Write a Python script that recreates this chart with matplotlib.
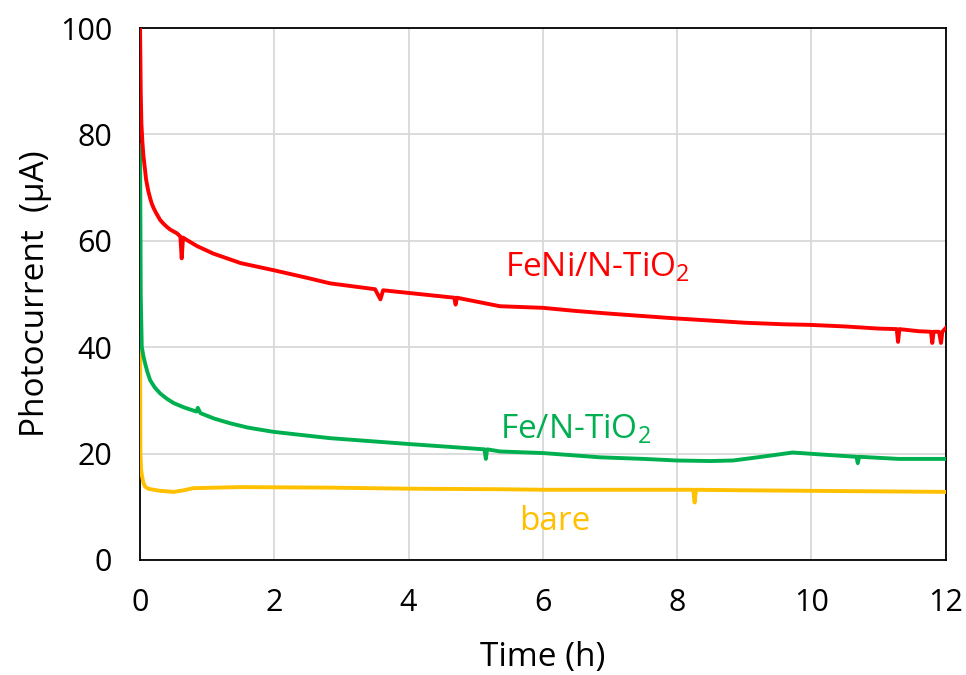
import matplotlib
matplotlib.use("Agg")
import matplotlib.pyplot as plt

plt.rcParams['font.family'] = ['Open Sans', 'DejaVu Sans']
plt.rcParams['mathtext.fontset'] = 'custom'
plt.rcParams['mathtext.rm'] = 'Open Sans'

# FeNi/N-TiO2 (red)
t_feni = [0, 0.01, 0.02, 0.035, 0.05, 0.074, 0.09, 0.12, 0.15, 0.174, 0.2, 0.24, 0.30, 0.35,
          0.40, 0.45, 0.55, 0.60, 0.62, 0.64,
          0.69, 0.85, 1.09, 1.5, 1.98, 2.5, 2.83, 3.5, 3.58, 3.62, 4.0, 4.68, 4.70, 4.72, 5.0,
          5.36, 6.0, 6.5, 7.0, 7.99, 8.5, 9.0, 9.6, 9.97, 10.5, 11.0, 11.27, 11.29, 11.31,
          11.6, 11.78, 11.8, 11.82, 11.9, 11.93, 11.95, 12.0]
i_feni = [100, 88, 82.0, 78.5, 76, 73.3, 71.5, 69.5, 68.0, 67.0, 66.2, 65.2, 63.9, 63.2,
          62.6, 62.1, 61.4, 60.8, 56.7, 60.6,
          60.2, 59.0, 57.6, 55.8, 54.5, 53.0, 52.0, 50.9, 49.0, 50.7, 50.2, 49.3, 48.0, 49.3, 48.6,
          47.7, 47.4, 46.8, 46.3, 45.4, 45.0, 44.6, 44.3, 44.2, 43.9, 43.5, 43.4, 41.0, 43.4,
          43.0, 42.9, 40.8, 42.9, 42.9, 40.8, 42.9, 43.6]

# Fe/N-TiO2 (green)
t_fe = [0, 0.01, 0.025, 0.05, 0.074, 0.11, 0.15, 0.22, 0.30, 0.40, 0.50, 0.65, 0.84, 0.86,
        0.90, 1.1, 1.34, 1.6, 1.98, 2.4, 2.83,
        4.0, 5.13, 5.15, 5.17, 5.36, 6.0, 6.85, 7.5, 8.0, 8.5, 8.83, 9.2, 9.72, 10.3, 10.67,
        10.69, 10.71, 11.3, 12.0]
i_fe = [78, 50, 40.1, 38.3, 37.0, 35.3, 33.8, 32.4, 31.3, 30.3, 29.5, 28.7, 27.9, 28.6,
        27.6, 26.6, 25.7, 24.9, 24.1, 23.5, 22.9,
        21.8, 20.8, 19.0, 20.8, 20.4, 20.1, 19.3, 19.0, 18.7, 18.6, 18.7, 19.3, 20.2, 19.7, 19.4,
        18.2, 19.4, 19.0, 19.0]

# bare (yellow)
t_bare = [0, 0.005, 0.015, 0.03, 0.05, 0.074, 0.12, 0.2, 0.30, 0.5, 0.65, 0.79, 1.49, 2.83,
          4.0, 5.36, 6.0, 7.0, 8.24, 8.26, 8.28, 9.0, 10.0, 11.0, 12.0]
i_bare = [42, 20, 17.0, 15.7, 14.5, 13.8, 13.4, 13.2, 13.0, 12.8, 13.1, 13.5, 13.7, 13.6,
          13.4, 13.3, 13.2, 13.2, 13.2, 10.8, 13.2, 13.1, 13.0, 12.9, 12.8]

x_ticks = [0, 2, 4, 6, 8, 10, 12]
y_ticks = [0, 20, 40, 60, 80, 100]

fig = plt.figure(figsize=(9.66, 6.75), dpi=100)
ax = fig.add_axes([0.145, 0.1704, 0.834, 0.7881])

ax.plot(t_bare, i_bare, color='#FFC000', lw=2.8, zorder=3)
ax.plot(t_fe, i_fe, color='#00B050', lw=2.8, zorder=4)
ax.plot(t_feni, i_feni, color='#FF0000', lw=2.8, zorder=5)

ax.set_xlim(0, 12)
ax.set_ylim(0, 100)
ax.set_xticks(x_ticks)
ax.set_yticks(y_ticks)
ax.grid(True, color='#D9D9D9', lw=1.3, zorder=0)
ax.set_axisbelow(True)
ax.tick_params(length=0, labelsize=22, pad=20, colors='black')
for s in ax.spines.values():
    s.set_color('black')
    s.set_linewidth(1.3)

ax.set_xlabel('Time (h)', fontsize=24, labelpad=17)
ax.set_ylabel('Photocurrent  (μA)', fontsize=24, labelpad=6)

ax.text(5.43, 55.0, r'FeNi/N-TiO$_\mathregular{2}$', color='#FF0000', fontsize=24, va='center', ha='left')
ax.text(5.36, 24.6, r'Fe/N-TiO$_\mathregular{2}$', color='#00B050', fontsize=24, va='center', ha='left')
ax.text(5.65, 7.2, 'bare', color='#FFC000', fontsize=24, va='center', ha='left')

fig.savefig('out.png', dpi=100)
